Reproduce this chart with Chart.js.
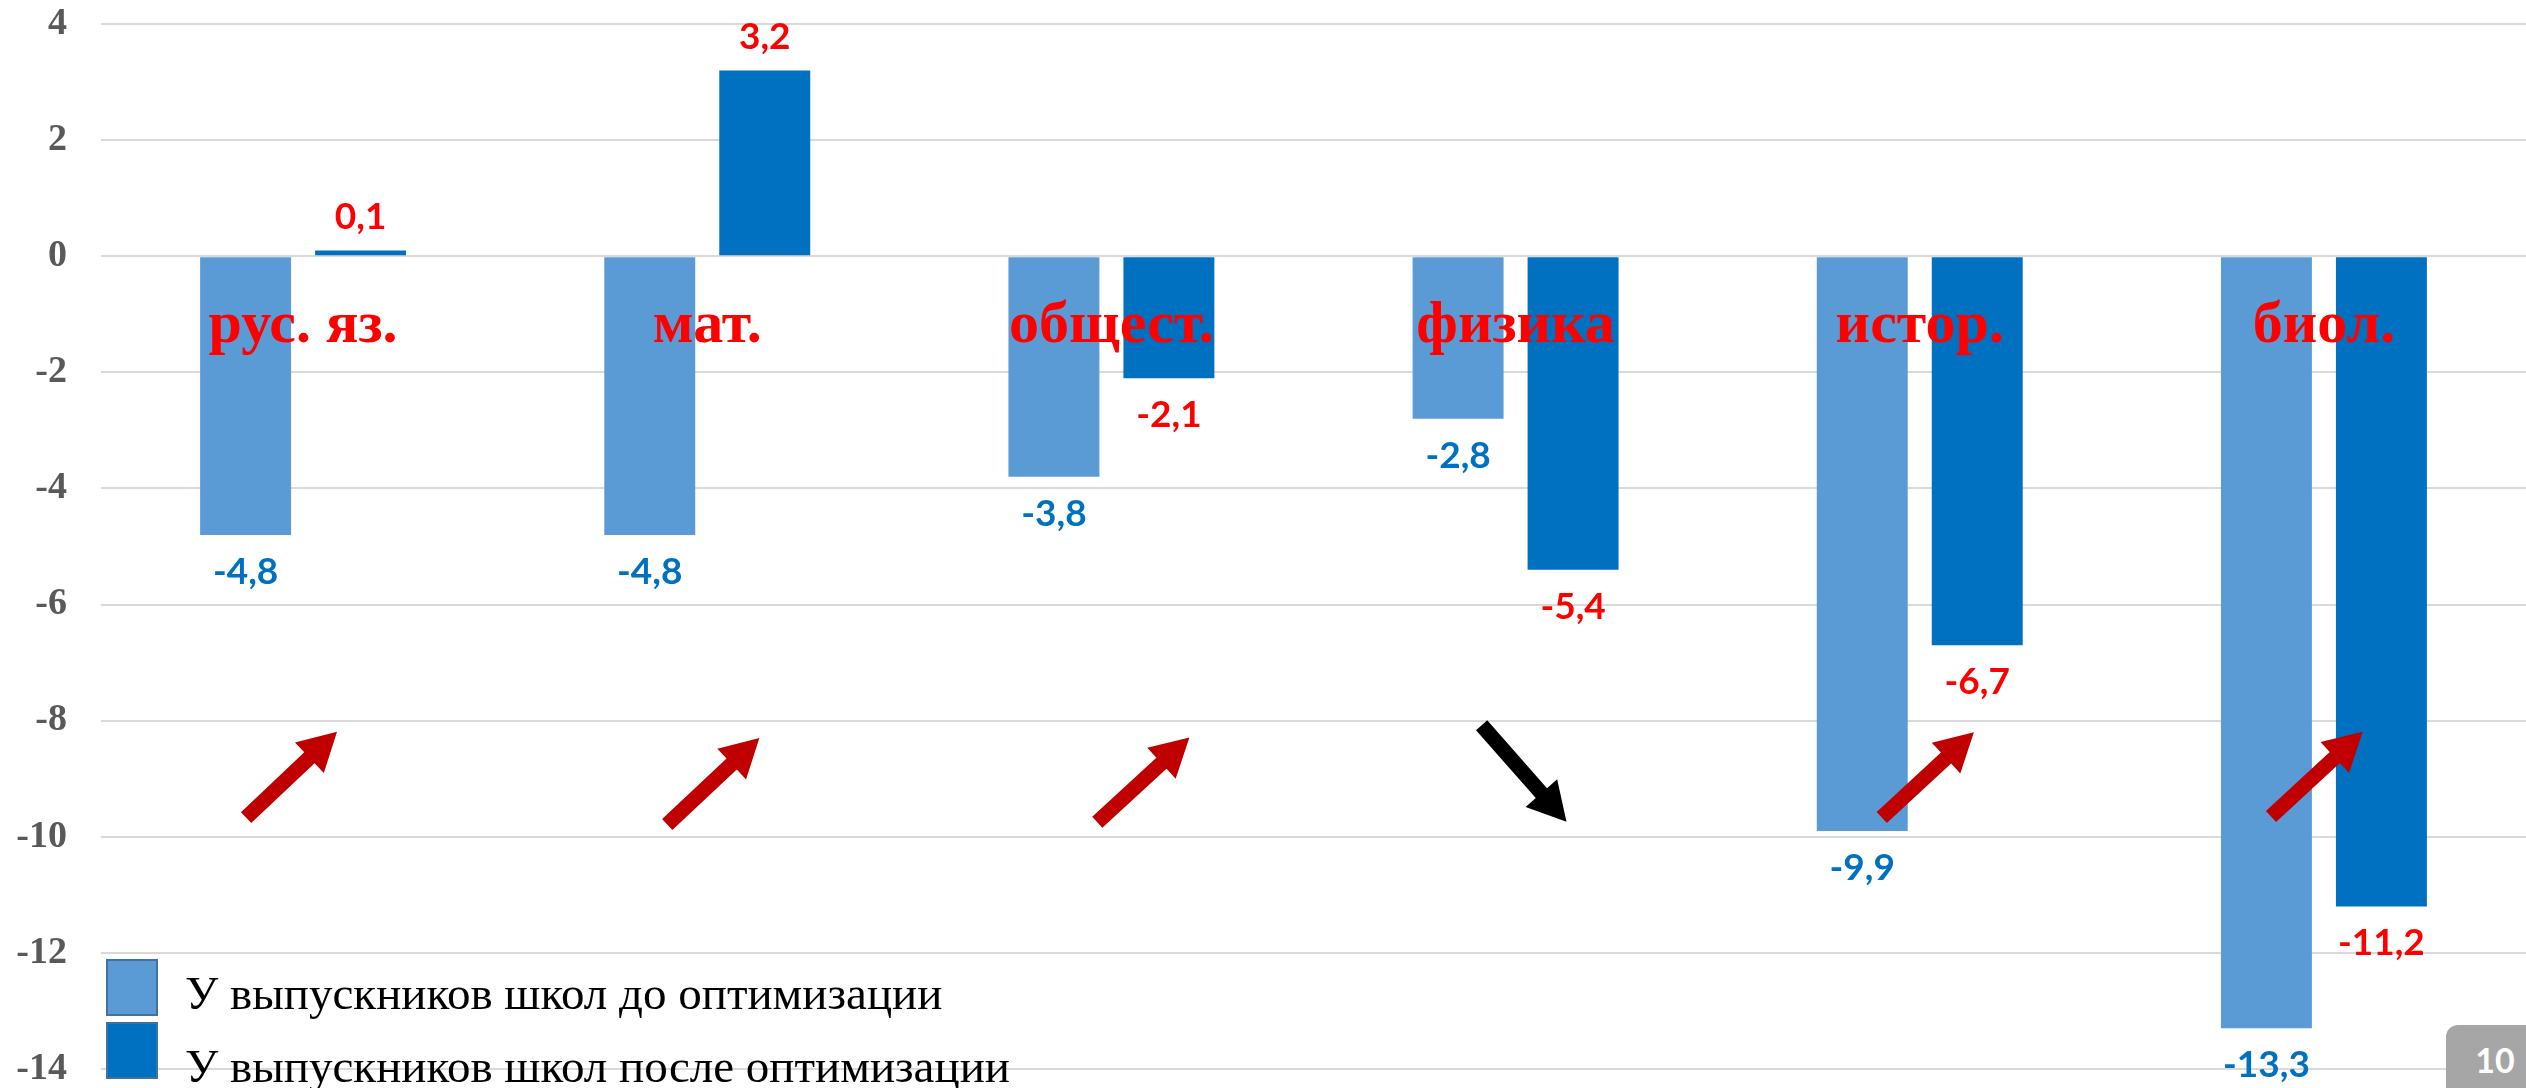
<!DOCTYPE html>
<html lang="ru">
<head>
<meta charset="utf-8">
<title>ЕГЭ до и после оптимизации</title>
<script src="https://cdn.jsdelivr.net/npm/chart.js@4.4.1/dist/chart.umd.min.js"></script>
<style>
    html, body { margin: 0; padding: 0; background: #fff; overflow: hidden; }
    #wrap { position: relative; width: 2526px; height: 1088px; }
    #pageNum {
        position: absolute; left: 2446px; top: 1025px; width: 98px; height: 90px;
        background: #a6a6a6; border-radius: 12px; color: #fff;
        font: bold 34px Lato, sans-serif; line-height: 70px; text-align: center;
    }
</style>
</head>
<body>
<div id="wrap">
    <canvas id="chartEge" width="2526" height="1088"></canvas>
    <div id="pageNum">10</div>
</div>
<script>
const subjects = ["рус. яз.", "мат.", "общест.", "физика", "истор.", "биол."];
const beforeValues = [-4.8, -4.8, -3.8, -2.8, -9.9, -13.3];
const afterValues = [0.1, 3.2, -2.1, -5.4, -6.7, -11.2];
const seriesNames = ["У выпускников школ до оптимизации", "У выпускников школ после оптимизации"];
const yTicks = [4, 2, 0, -2, -4, -6, -8, -10, -12, -14];

const colorBefore = "#5b9bd5";
const colorAfter = "#0070c0";

// where the hand drawn arrows sit: [dx start, y start, dx end, y end]
// dx in fractions of a category width, y in axis units
const arrowPlaces = [
    [-0.141, -9.67, 0.084, -8.19],
    [-0.099, -9.79, 0.129, -8.30],
    [-0.035, -9.75, 0.193, -8.29],
    [-0.084, -8.08, 0.126, -9.74],
    [-0.094, -9.67, 0.134, -8.20],
    [-0.131, -9.65, 0.096, -8.19]
];

function fmt(v) {
    return v.toFixed(1).replace(".", ",");
}

function drawArrow(ctx, x0, y0, x1, y1, color) {
    const ang = Math.atan2(y1 - y0, x1 - x0);
    const len = Math.hypot(x1 - x0, y1 - y0);
    const shaft = 7.5, headLen = 38, headHalf = 21;
    ctx.save();
    ctx.translate(x0, y0);
    ctx.rotate(ang);
    ctx.fillStyle = color;
    ctx.beginPath();
    ctx.moveTo(0, -shaft);
    ctx.lineTo(len - headLen, -shaft);
    ctx.lineTo(len - headLen, -headHalf);
    ctx.lineTo(len, 0);
    ctx.lineTo(len - headLen, headHalf);
    ctx.lineTo(len - headLen, shaft);
    ctx.lineTo(0, shaft);
    ctx.closePath();
    ctx.fill();
    ctx.restore();
}

const overlayPlugin = {
    id: "overlay",
    afterDatasetsDraw(chart) {
        const ctx = chart.ctx;
        const xs = chart.scales.x;
        const ys = chart.scales.y;
        const catW = (chart.chartArea.right - chart.chartArea.left) / subjects.length;
        const zeroY = ys.getPixelForValue(0);

        // value labels
        ctx.save();
        ctx.font = "bold 37px Lato, sans-serif";
        ctx.textAlign = "center";
        ctx.textBaseline = "middle";
        chart.data.datasets.forEach((ds, di) => {
            const meta = chart.getDatasetMeta(di);
            ctx.fillStyle = di === 0 ? "#0070c0" : "#ff0000";
            meta.data.forEach((bar, i) => {
                const v = ds.data[i];
                const y = v >= 0 ? bar.y - 33 : bar.y + 37;
                ctx.fillText(fmt(v), bar.x, y);
            });
        });
        ctx.restore();

        // subject names
        ctx.save();
        ctx.font = "bold 60px 'Liberation Serif', serif";
        ctx.fillStyle = "#ff0000";
        ctx.textAlign = "center";
        ctx.textBaseline = "alphabetic";
        subjects.forEach((s, i) => {
            ctx.fillText(s, xs.getPixelForValue(i), zeroY + 86);
        });
        ctx.restore();

        // arrows: up if the result got better
        subjects.forEach((s, i) => {
            const p = arrowPlaces[i];
            const cx = xs.getPixelForValue(i);
            const up = afterValues[i] > beforeValues[i];
            drawArrow(ctx, cx + p[0] * catW, ys.getPixelForValue(p[1]),
                cx + p[2] * catW, ys.getPixelForValue(p[3]), up ? "#c00000" : "#000000");
        });

        // legend
        ctx.save();
        ctx.font = "47px 'Liberation Serif', serif";
        ctx.textAlign = "left";
        ctx.textBaseline = "alphabetic";
        const boxTops = [959, 1022];
        const baselines = [1009, 1082];
        chart.data.datasets.forEach((ds, di) => {
            ctx.fillStyle = ds.backgroundColor;
            ctx.fillRect(106, boxTops[di], 52, 57);
            ctx.strokeStyle = "#41719c";
            ctx.lineWidth = 2;
            ctx.strokeRect(107, boxTops[di] + 1, 50, 55);
            ctx.fillStyle = "#000";
            ctx.fillText(ds.label, 185, baselines[di]);
        });
        ctx.restore();
    }
};

new Chart(document.getElementById("chartEge"), {
    type: "bar",
    data: {
        labels: subjects,
        datasets: [
            {
                label: seriesNames[0],
                data: beforeValues,
                backgroundColor: colorBefore,
                categoryPercentage: 0.569,
                barPercentage: 0.791
            },
            {
                label: seriesNames[1],
                data: afterValues,
                backgroundColor: colorAfter,
                categoryPercentage: 0.569,
                barPercentage: 0.791
            }
        ]
    },
    options: {
        responsive: false,
        animation: false,
        layout: { padding: { top: 24, bottom: 18, left: 0, right: 0 } },
        plugins: {
            legend: { display: false },
            tooltip: { enabled: false }
        },
        scales: {
            x: { display: false },
            y: {
                min: -14,
                max: 4,
                afterBuildTicks(scale) {
                    scale.ticks = yTicks.map(v => ({ value: v }));
                },
                afterFit(scale) {
                    scale.width = 101;
                },
                grid: {
                    color: "#d9d9d9",
                    lineWidth: 2,
                    drawTicks: true,
                    tickLength: 34,
                    tickColor: "rgba(0,0,0,0)"
                },
                border: { display: false },
                ticks: {
                    padding: 0,
                    color: "#595959",
                    font: { family: "'Liberation Serif', serif", weight: "bold", size: 38, lineHeight: 1 },
                    callback: v => String(v)
                }
            }
        }
    },
    plugins: [overlayPlugin]
});
</script>
</body>
</html>
